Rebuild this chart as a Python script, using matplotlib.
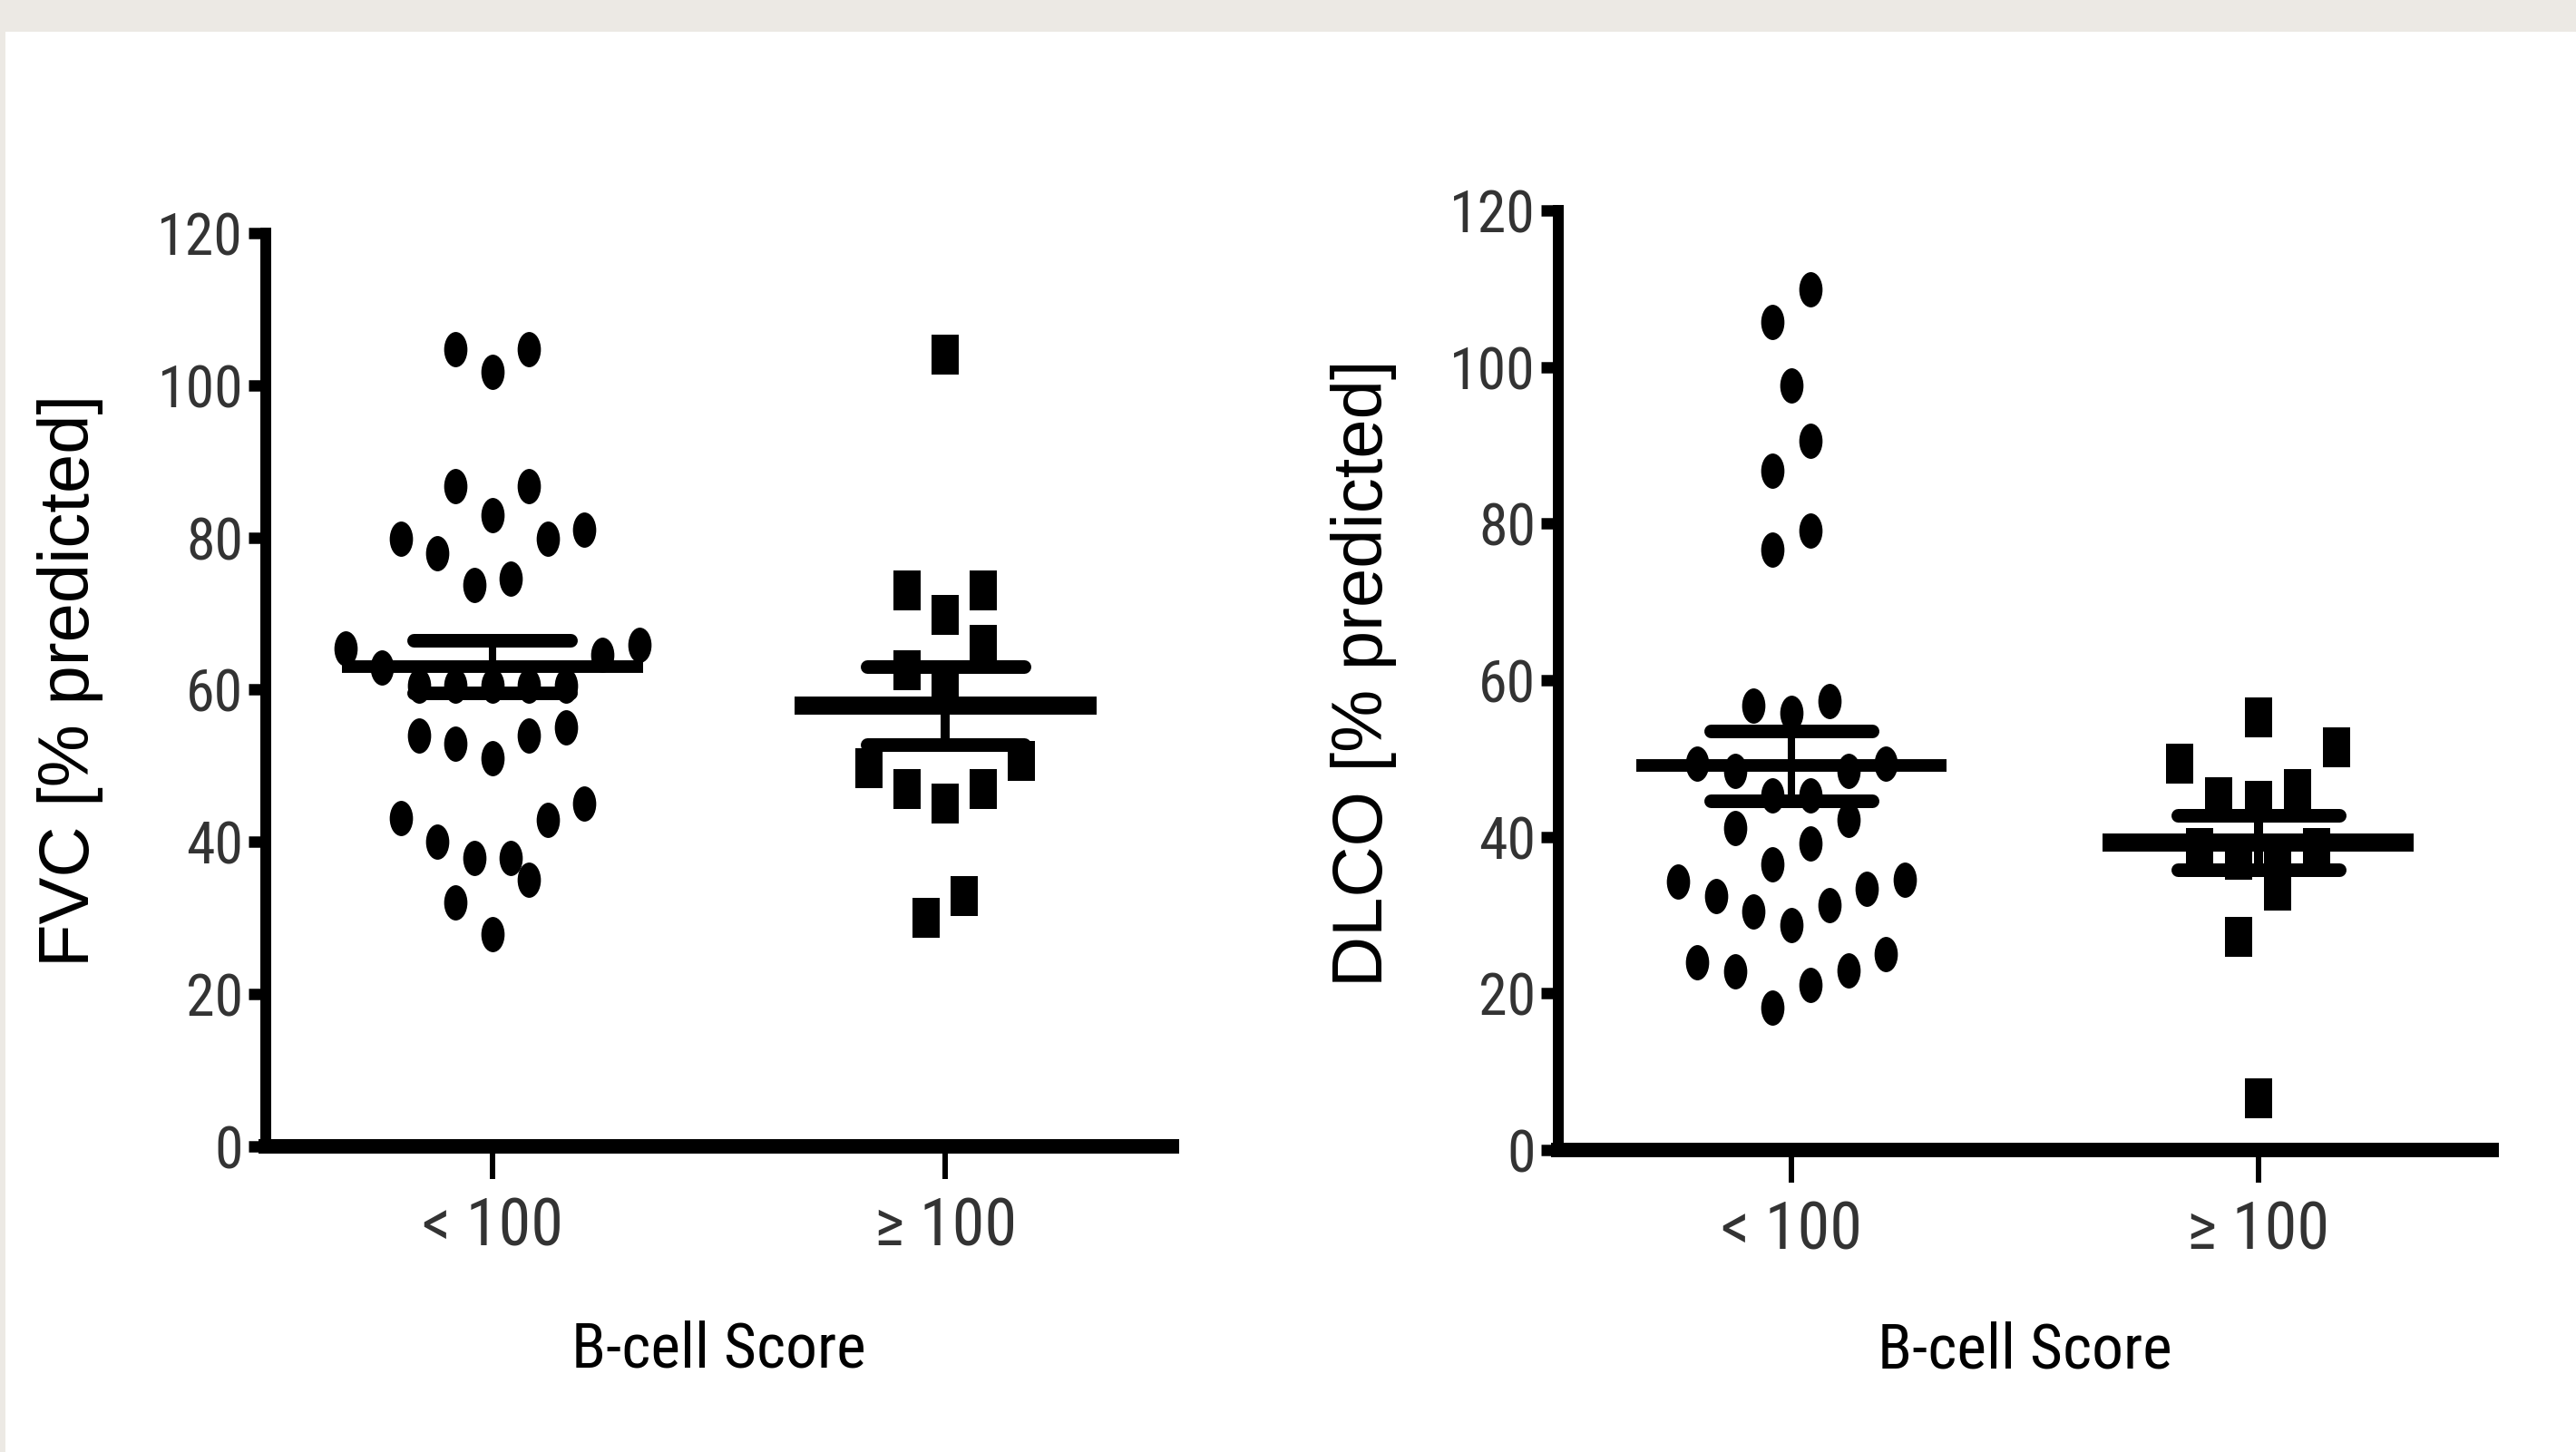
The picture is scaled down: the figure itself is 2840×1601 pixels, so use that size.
import os
import numpy as np
import matplotlib
matplotlib.use('Agg')
import matplotlib.pyplot as plt
from matplotlib import font_manager as fm
from matplotlib.path import Path
from matplotlib.transforms import Affine2D
from matplotlib.patches import Rectangle

# -- values (% predicted)
groups = ['< 100', '\u2265 100']
fvc_low = [27.9, 32.0, 35.0, 37.9, 37.9, 40.0, 42.9, 43.1, 45.0,
           51.0, 52.9, 54.0, 54.0, 55.0, 60.5, 60.5, 60.5, 60.5, 60.5,
           62.9, 64.6, 65.4, 65.9, 73.8, 74.6, 77.9, 79.8, 79.8, 81.0,
           82.9, 86.7, 86.8, 101.8, 104.8, 104.8]
fvc_high = [30.0, 32.9, 45.0, 47.0, 47.0, 49.7, 50.6, 60.4, 62.6, 65.9,
            69.8, 73.1, 73.1, 104.0]
dlco_low = [18.2, 21.1, 22.8, 22.9, 24.0, 25.0, 28.7, 30.5, 31.3, 32.4,
            33.4, 34.3, 34.5, 36.5, 39.2, 41.1, 42.2, 45.3, 45.3, 48.4,
            48.4, 49.4, 49.4, 55.8, 56.7, 57.3, 76.7, 79.1, 86.7, 90.6,
            97.7, 105.7, 109.9]
dlco_high = [6.6, 27.2, 33.1, 37.1, 37.8, 38.6, 38.6, 44.6, 45.1, 46.1,
             49.3, 51.4, 55.2]
yticks = [0, 20, 40, 60, 80, 100, 120]
ylabels = ['FVC [% predicted]', 'DLCO [% predicted]']
xlabel = 'B-cell Score'

plain = ['Liberation Sans', 'DejaVu Sans']

# -- look for a narrow sans face (the source picture is squeezed sideways)
narrow_file = None
files = [f.fname for f in fm.fontManager.ttflist]
for key in ['liberationsansnarrow-regular', 'robotocondensed-regular',
            'roboto-condensed', 'dejavusanscondensed.ttf', 'notosans-condensed.',
            'notosanscondensed-regular', 'opensans-condensed', 'opensanscondensed']:
    hits = [f for f in files if key in os.path.basename(f).lower()]
    if hits:
        narrow_file = hits[0]
        break


def narrow(size):
    if narrow_file:
        return fm.FontProperties(fname=narrow_file, size=size)
    return fm.FontProperties(family=plain, stretch='condensed', size=size)


ellipse = Affine2D().scale(0.66, 1.0).transform_path(Path.unit_circle())
rect = Path([(-0.67, -1), (0.67, -1), (0.67, 1), (-0.67, 1), (-0.67, -1)], closed=True)


def swarm(values, slot, bin_h=7.3):
    # Prism-like rows: points of similar value side by side, centred on the group
    vals = np.sort(np.asarray(values, float))
    rows, cur = [], [vals[0]]
    for v in vals[1:]:
        if v - cur[0] > bin_h:
            rows.append(cur)
            cur = [v]
        else:
            cur.append(v)
    rows.append(cur)
    xs, ys = [], []
    for row in rows:
        n = len(row)
        if n % 2:
            order = [0] + [s * k for k in range(1, n // 2 + 1) for s in (-1, 1)]
        else:
            order = [s * (k - 0.5) for k in range(1, n // 2 + 1) for s in (-1, 1)]
        for v, o in zip(row, order):
            xs.append(o * slot)
            ys.append(v)
    return np.array(xs), np.array(ys)


def mean_sem(ax, x, values, mean_lw, stem_lw):
    v = np.asarray(values, float)
    m = v.mean()
    s = v.std(ddof=1) / np.sqrt(len(v))
    ax.hlines(m, x - 0.333, x + 0.333, color='black', lw=mean_lw, capstyle='butt', zorder=4)
    ax.hlines([m - s, m + s], x - 0.173, x + 0.173, color='black', lw=10.8,
              capstyle='round', zorder=4)
    ax.vlines(x, m - s, m + s, color='black', lw=stem_lw, zorder=4)


def panel(ax, low, high, ylab, ylab_x, ylab_y, xlab_y):
    xs, ys = swarm(low, 0.081)
    ax.plot(0 + xs, ys, linestyle='none', marker=ellipse, ms=28, mfc='black',
            mec='black', mew=0, zorder=3, clip_on=False)
    xs, ys = swarm(high, 0.084)
    ax.plot(1 + xs, ys, linestyle='none', marker=rect, ms=32, mfc='black',
            mec='black', mew=0, zorder=3, clip_on=False)
    mean_sem(ax, 0, low, 10, 5.8)
    mean_sem(ax, 1, high, 14.4, 7.2)

    ax.set_xlim(-0.5, 1.5)
    ax.set_ylim(0, 120)
    ax.set_yticks(yticks)
    ax.set_yticklabels([str(t) for t in yticks], fontproperties=narrow(46), color='#333333')
    ax.set_xticks([0, 1])
    ax.set_xticklabels(groups, fontproperties=narrow(52), color='#333333')
    for side in ('top', 'right'):
        ax.spines[side].set_visible(False)
    ax.spines['left'].set_linewidth(8.6)
    ax.spines['bottom'].set_linewidth(11.5)
    ax.tick_params(axis='y', direction='out', length=14, width=9, pad=4)
    ax.tick_params(axis='x', direction='out', length=26, width=4.3, pad=14)

    ax.set_ylabel(ylab, family=plain, fontsize=56, color='black')
    ax.yaxis.set_label_coords(ylab_x, ylab_y)
    ax.set_xlabel(xlabel, fontproperties=narrow(50), color='black')
    ax.xaxis.set_label_coords(0.5, xlab_y)
    ax.set_facecolor('none')


fig = plt.figure(figsize=(28.4, 16.01), dpi=100)
fig.patch.set_facecolor('white')
# -- grey page band at the top / left edge of the screenshot
fig.patches.append(Rectangle((0, 1 - 35 / 1601), 1, 35 / 1601, transform=fig.transFigure,
                             facecolor='#ECE9E4', edgecolor='none', zorder=0))
fig.patches.append(Rectangle((0, 0), 6 / 2840, 1, transform=fig.transFigure,
                             facecolor='#ECE9E4', edgecolor='none', zorder=0))

ax1 = fig.add_axes([0.1032, 0.2105, 0.3518, 0.6290])
ax2 = fig.add_axes([0.6049, 0.2080, 0.3623, 0.6471])

panel(ax1, fvc_low, fvc_high, ylabels[0], -0.179, 0.51, -0.19)
panel(ax2, dlco_low, dlco_high, ylabels[1], -0.173, 0.507, -0.182)

fig.savefig('out.png', dpi=100, facecolor=fig.get_facecolor())
